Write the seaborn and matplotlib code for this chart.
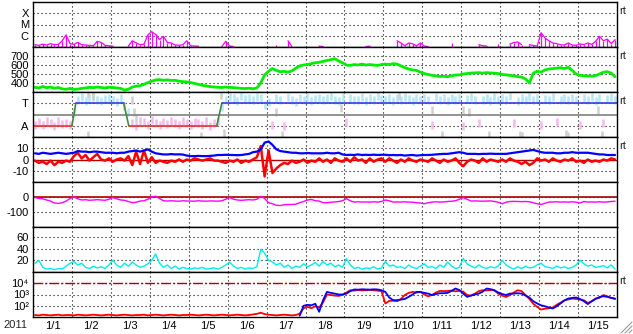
import numpy as np
import seaborn as sns
import matplotlib
matplotlib.use("Agg")
import matplotlib.pyplot as plt
from matplotlib.ticker import NullLocator
from matplotlib.lines import Line2D

N = np.nan

# ---------------- data (day index 0..15 = Jan 1 .. Jan 16, 0.1-day samples) ----------------
day = np.arange(150) * 0.1 + 0.05
day_labels = ["1/1", "1/2", "1/3", "1/4", "1/5", "1/6", "1/7", "1/8", "1/9", "1/10",
              "1/11", "1/12", "1/13", "1/14", "1/15"]

xray = [1.6e-7, 1.4e-7, 1.8e-7, 1.5e-7, 2.0e-7, 1.6e-7, 1.7e-7, 3.6e-7, 1.2e-6, 2.0e-7,
        1.7e-7, 2.6e-7, 1.6e-7, 1.5e-7, 1.4e-7, 1.3e-7, 3.2e-7, 2.6e-7, 1.4e-7, 1.3e-7,
        1.2e-7, N, 1.1e-7, N, 1.2e-7, 3.6e-7, 2.3e-7, 1.6e-7, 1.8e-7, 1.2e-6,
        2.3e-6, 1.3e-6, 4.5e-7, 8.9e-7, 2.5e-7, 2.3e-7, 1.5e-7, 1.4e-7, 1.6e-7, 3.6e-7,
        1.3e-7, 1.2e-7, 1.2e-7, N, 1.1e-7, N, 1.1e-7, N, 1.1e-7, 3.2e-7,
        1.2e-7, 1.1e-7, N, N, N, N, N, N, N, N,
        N, N, 1.6e-7, N, N, 3.6e-7, 1.1e-7, N, 1.1e-7, N,
        N, N, N, 1.2e-7, 1.1e-7, N, N, N, N, 1.1e-7,
        N, N, N, N, N, 1.1e-7, 1.2e-7, N, 1.1e-7, N,
        N, N, N, 3.6e-7, 2.3e-7, 1.3e-7, 2.3e-7, 1.9e-7, 1.3e-7, 2.3e-7,
        1.2e-7, 1.1e-7, N, 1.1e-7, N, N, N, 2.3e-7, N, N,
        N, N, N, N, 1.6e-7, 1.3e-7, 1.2e-7, N, N, 1.9e-7,
        N, N, 1.8e-7, 2.5e-7, 2.8e-7, 1.6e-7, N, 1.6e-7, 1.4e-7, 1.2e-7,
        1.9e-6, 6.3e-7, 3.6e-7, 2.3e-7, 2.0e-7, 1.6e-7, 1.5e-7, 2.3e-7, 1.5e-7, 1.4e-7,
        1.9e-7, 1.6e-7, 2.3e-7, 1.7e-7, 3.2e-7, 8.9e-7, 3.6e-7, 5.0e-7, 2.0e-7, 4.5e-7]

speed = [352, 345, 360, 348, 355, 342, 350, 335, 330, 340,
         328, 332, 340, 345, 352, 348, 355, 350, 345, 352,
         350, 345, 340, 322, 330, 355, 365, 370, 385, 404,
         420, 433, 438, 430, 435, 428, 430, 420, 415, 412,
         405, 395, 385, 375, 367, 360, 355, 352, 350, 355,
         352, 348, 345, 340, 338, 342, 335, 345, 400, 490,
         530, 560, 540, 525, 530, 520, 535, 565, 590, 600,
         605, 615, 625, 630, 640, 650, 660, 670, 645, 625,
         600, 595, 605, 600, 610, 600, 605, 600, 595, 605,
         610, 605, 615, 610, 590, 570, 555, 545, 540, 520,
         505, 495, 485, 478, 472, 475, 470, 480, 488, 490,
         500, 505, 510, 512, 515, 510, 515, 512, 508, 505,
         495, 490, 485, 478, 470, 465, 445, 400, 510, 530,
         520, 545, 555, 560, 565, 570, 560, 575, 540, 500,
         485, 480, 478, 475, 482, 500, 520, 525, 510, 470]

phi = [100, 120, 95, 130, 110, 90, 125, 105, 115, 100,
       200, 300, 320, 290, 310, 330, 300, 290, 305, 315,
       300, 280, 310, 250, 200, 110, 90, 130, 120, 100,
       140, 115, 95, 120, 105, 125, 110, 100, 130, 115,
       95, 120, 110, 100, 125, 90, 115, 130, 240, 300,
       320, 310, 290, 330, 305, 315, 295, 320, 310, 260,
       280, 100, 310, 300, 90, 320, 300, 280, 310, 300,
       320, 290, 305, 315, 295, 310, 330, 300, 290, 320,
       120, 310, 300, 300, 320, 290, 310, 300, 325, 305,
       300, 315, 290, 310, 300, 320, 305, 290, 310, 300,
       310, 295, 100, 320, 300, 310, 290, 315, 300, 310,
       90, 305, 320, 295, 110, 300, 310, 290, 320, 300,
       310, 300, 325, 110, 290, 310, 300, 320, 295, 310,
       100, 305, 300, 320, 120, 300, 310, 295, 315, 300,
       100, 310, 300, 320, 290, 310, 110, 305, 320, 300]

gray_day = [1.4, 1.55, 1.42, 2.55, 2.6, 2.65, 4.32, 4.82, 4.9, 6.25, 6.4, 7.9,
            9.4, 10.26, 10.5, 11.05, 11.2, 11.7, 12.5, 12.55, 13.7, 13.75, 14.5, 14.62]
gray_phi = [345, 320, 20, 300, 200, 150, 10, 340, 30, 200, 20, 230,
            330, 216, 15, 220, 200, 20, 15, 10, 25, 10, 220, 15]

sector_day = [0, 1.0, 1.1, 2.33, 2.46, 4.72, 4.85, 15]
sector_phi = [90, 90, 270, 270, 90, 90, 270, 270]

bt = [5.5, 5, 6, 5.5, 5, 5.5, 6, 5.5, 5, 5.5,
      6, 7.5, 7, 7, 6.5, 7, 7, 6.5, 6, 6,
      6, 5.5, 6, 6, 7, 7.5, 8, 7, 8, 9,
      7, 5.5, 5, 4.5, 4.5, 4.8, 4.5, 4.6, 4.4, 3.5,
      3, 3, 3.2, 3, 3, 3.2, 3.5, 4, 4, 4.2,
      4, 4, 3.8, 4, 4.5, 5, 6.5, 7, 9, 15,
      16, 13, 9, 7.5, 7, 6.5, 6, 6, 5.5, 5.5,
      5.8, 5.5, 5.5, 5.5, 5.5, 6, 5.5, 5.5, 6, 4.5,
      4, 4.2, 4, 4.5, 4, 4.2, 4, 4.3, 4, 4.2,
      4.2, 3.8, 4, 3.8, 4, 3.5, 3.8, 4, 3.5, 3.8,
      4, 4, 4.2, 4.5, 4.8, 5, 5, 5.5, 6, 6.5,
      6, 5, 5, 5, 4.8, 5, 5, 5.2, 5, 5,
      5, 5, 5.5, 6, 6.5, 7, 7.5, 8, 8.5, 7.5,
      6.5, 6, 6, 6, 5.5, 5.5, 6, 6, 6.5, 6,
      6, 6, 6, 5.5, 5, 4.5, 4.5, 4, 4, 4]

bz = [-1, -3, -2, -4, -1, -5, -2, -3, -1, -2,
      3, 6, 1, 4, -1, 2, 5, 0, -1, 1,
      -2, 0, 1, -1, 3, -5, 7, -4, 8, -3,
      2, -3, -1, -2, -3, -1, -2, 0, -2, 0,
      -1, 1, 0, -1, 0, 1, -1, -1, -2, -3,
      -1, -2, 0, -3, -1, -2, 0, 2, 12, -15,
      8, -12, -8, -5, -3, -4, -1, -3, -2, 0,
      -3, -1, -2, 1, -2, 0, -3, 1, -1, -2,
      1, -2, 2, -1, 0, -3, 1, -2, 0, 1,
      -2, 1, -1, -3, 0, -2, 1, -1, -2, 0,
      -1, -2, 1, -1, -3, 0, -2, -1, 1, -3,
      -6, -2, 0, -1, -3, 1, -2, 0, -1, -2,
      0, -2, 1, -1, -2, -4, -2, -5, -3, 1,
      -1, 0, -2, 1, -1, -2, 0, -1, 1, -2,
      -1, -3, 0, -2, -1, -2, 0, -1, 1, 0]

dst = [-4, -10, -12, -20, -27, -40, -43, -38, -27, -10,
       0, -12, -20, -18, -22, -20, -18, -20, -22, -15,
       -4, -12, -20, -22, -30, -38, -35, -27, -25, -15,
       0, 5, -10, -25, -27, -25, -27, -28, -25, -27,
       -27, -28, -25, -27, -28, -26, -27, -28, -25, -15,
       -4, -15, -20, -22, -20, -18, -20, -15, 5, -10,
       -38, -45, -55, -57, -52, -50, -50, -48, -38, -30,
       -20, -16, -25, -27, -38, -38, -35, -33, -30, -25,
       -11, -25, -34, -32, -34, -33, -34, -32, -34, -30,
       -20, -25, -34, -33, -34, -32, -34, -35, -38, -40,
       -45, -38, -34, -32, -34, -33, -30, -28, -25, -15,
       -4, -15, -27, -26, -27, -28, -27, -26, -30, -35,
       -45, -35, -30, -29, -30, -31, -30, -32, -38, -45,
       -50, -42, -34, -33, -32, -34, -33, -34, -32, -35,
       -40, -30, -34, -33, -34, -32, -34, -33, -30, -28]

kp_index = [15, 20, 8, 5, 6, 4, 6, 5, 10, 15,
            18, 12, 15, 8, 6, 10, 7, 9, 6, 12,
            20, 12, 8, 15, 10, 17, 12, 8, 10, 14,
            20, 31, 15, 8, 12, 6, 10, 5, 8, 6,
            5, 7, 6, 8, 5, 6, 7, 5, 8, 12,
            17, 10, 6, 8, 5, 7, 6, 9, 39, 32,
            20, 17, 12, 15, 8, 12, 6, 10, 8, 14,
            9, 12, 16, 10, 18, 12, 15, 9, 12, 8,
            23, 12, 6, 8, 5, 7, 6, 9, 5, 7,
            18, 10, 12, 8, 9, 6, 12, 8, 6, 10,
            14, 8, 9, 6, 12, 8, 17, 10, 6, 8,
            23, 14, 10, 7, 12, 8, 6, 9, 7, 10,
            20, 12, 8, 5, 9, 6, 10, 7, 8, 12,
            15, 9, 8, 6, 10, 7, 9, 6, 8, 12,
            20, 14, 10, 12, 8, 9, 11, 7, 12, 5]

flux_red = [15, 14, 16, 15, 14, 15, 16, 14, 15, 15,
            14, 16, 15, 14, 15, 16, 15, 14, 15, 16,
            15, 14, 15, 16, 15, 14, 15, 15, 16, 14,
            15, 16, 15, 14, 15, 16, 15, 14, 15, 15,
            16, 15, 14, 15, 16, 15, 14, 15, 16, 15,
            14, 15, 16, 15, 14, 15, 17, 19, 24, 18,
            16, 15, 14, 15, 16, 15, 14, 15, 20, 60,
            80, 60, 90, 70, 200, 1000, 900, 800, 750, 900,
            1500, 2400, 2200, 2500, 2300, 2400, 2600, 2400, 2200, 2000,
            160, 270, 280, 250, 400, 900, 1400, 1700, 1500, 1700,
            1000, 700, 900, 1500, 2100, 2000, 2100, 2200, 1900, 2100,
            1800, 900, 800, 1200, 2000, 2400, 2300, 2500, 2300, 1200,
            800, 600, 900, 1500, 2400, 2000, 900, 400, 150, 80,
            46, 55, 60, 70, 120, 190, 300, 360, 440, 400,
            350, 310, 180, 250, 440, 500, 900, 700, 500, 390]

blue_first = 68  # blue flux series starts at this sample
flux_blue = [13, 100, 120, 110, 150, 29, 313, 1700, 1400, 1200, 1000, 1000,
             1200, 2000, 2800, 2700, 2900, 2800, 2700, 2900, 2800, 2400,
             1700, 540, 313, 313, 350, 400, 620, 1000, 1700, 1700,
             1400, 1200, 900, 1100, 1300, 1300, 1400, 2100, 3400, 2500,
             1200, 620, 800, 1000, 1200, 1800, 3400, 3000, 2400, 1500,
             1100, 900, 1200, 1200, 1300, 1200, 800, 540, 250, 160,
             110, 90, 70, 57, 90, 160, 300, 440, 500, 540,
             400, 250, 140, 250, 400, 600, 700, 620, 500, 440]

# ---------------- figure ----------------
sns.set_style("white")
plt.rcParams["font.family"] = ["Liberation Sans", "DejaVu Sans"]
FS = 8
plt.rcParams["font.size"] = FS
plt.rcParams["axes.axisbelow"] = True

W, H = 633, 334
fig = plt.figure(figsize=(W / 100, H / 100), dpi=100)
fig.patch.set_facecolor("white")
bounds = [2, 47, 92, 137, 182, 227, 272, 317]
L, R = 33, 617
axes = []
for k in range(7):
    top, bot = bounds[k], bounds[k + 1]
    axes.append(fig.add_axes([L / W, 1 - bot / H, (R - L) / W, (bot - top) / H]))

DOT = (0, (1, 2.6))


def base(ax, ylim, yticks, ylabels, log=False):
    if log:
        ax.set_yscale("log")
    ax.set_xlim(0, 15)
    ax.set_ylim(*ylim)
    ax.set_xticks(np.arange(1, 15))
    ax.set_xticklabels([])
    ax.set_yticks(yticks)
    ax.set_yticklabels(ylabels)
    ax.yaxis.set_minor_locator(NullLocator())
    ax.tick_params(which="both", length=0, labelsize=FS, pad=3, colors="black")
    ax.grid(True, which="major", color="black", lw=0.8, ls=DOT)
    for s in ax.spines.values():
        s.set_color("black")
        s.set_linewidth(1.0)
    ax.set_xlabel("")
    ax.set_ylabel("")


def line(ax, x, y, color, lw):
    sns.lineplot(x=x, y=y, ax=ax, color=color, lw=lw, estimator=None, sort=False)


# 1: X-ray
ax = axes[0]
ax.set_yscale("log")
ax.vlines(day, 1e-7, xray, color="#ff00ff", lw=0.9)
ax.plot(day, xray, color="#ff00ff", lw=0.9)
base(ax, (1e-7, 1e-3), [1e-4, 1e-5, 1e-6], ["X", "M", "C"], log=True)

# 2: solar wind speed
ax = axes[1]
line(ax, day, speed, "#00ee00", 2.0)
base(ax, (300, 800), [700, 600, 500, 400], ["700", "600", "500", "400"])

# 3: IMF sector (phi)
ax = axes[2]
phi_arr = np.array(phi, dtype=float)
toward = phi_arr >= 180
ax.plot(day[toward], phi_arr[toward], ls="none", marker="|", ms=6, mew=1.8, color="#b2e8f8")
ax.plot(day[~toward], phi_arr[~toward], ls="none", marker="|", ms=6, mew=1.8, color="#f7b8f0")
ax.plot(gray_day, gray_phi, ls="none", marker="|", ms=6, mew=1.8, color="#d0d0d0")
ax.axhline(180, color="#808080", lw=1.2)
for i in range(len(sector_day) - 1):
    v0, v1 = sector_phi[i], sector_phi[i + 1]
    if v0 == v1:
        c = "#3a3ae0" if v0 > 180 else "#e83030"
    else:
        c = "#3f8a3f"
    ax.plot(sector_day[i:i + 2], sector_phi[i:i + 2], color=c, lw=1.2)
base(ax, (0, 360), [270, 90], ["T", "A"])

# 4: Bt / Bz
ax = axes[3]
ax.axhline(0, color="#b00000", lw=1.0)
line(ax, day, bz, "#ff0000", 1.8)
line(ax, day, bt, "#0000ff", 1.6)
base(ax, (-20, 20), [10, 0, -10], ["10", "0", "-10"])

# 5: Dst
ax = axes[4]
ax.axhline(0, color="#b00000", lw=1.2)
line(ax, day, dst, "#ff00ff", 1.0)
base(ax, (-200, 100), [0, -100], ["0", "-100"])

# 6: geomagnetic activity
ax = axes[5]
line(ax, day, kp_index, "#00eeee", 1.0)
base(ax, (0, 77), [60, 40, 20], ["60", "40", "20"])

# 7: electron flux
ax = axes[6]
ax.set_yscale("log")
ax.axhline(1e4, color="#b00000", lw=1.0, ls=(0, (7, 1.5, 1.5, 1.5)))
line(ax, day, flux_red, "#ff0000", 1.3)
line(ax, day[blue_first:], flux_blue, "#0000ff", 1.3)
base(ax, (10, 1e5), [1e4, 1e3, 1e2], ["10\u2074", "10\u00b3", "10\u00b2"], log=True)
ax.set_xticks(np.arange(15) + 0.5, minor=True)
ax.set_xticklabels(day_labels, minor=True)
ax.tick_params(which="minor", length=0, labelsize=FS, pad=3)

fig.text(15 / W, 1 - 325 / H, "2011", ha="center", va="center", fontsize=FS)

for top in [2, 47, 92, 137, 272]:
    fig.text(619 / W, 1 - (top + 9) / H, "rt", ha="left", va="center", fontsize=FS)

# window resize grip (decoration)
for off in [0, 4, 8]:
    fig.add_artist(Line2D([(621 + off) / W, 632 / W], [1 - 333 / H, 1 - (322 + off) / H],
                          transform=fig.transFigure, color="#9a9a9a", lw=0.8))

fig.savefig("out.png", dpi=100)
